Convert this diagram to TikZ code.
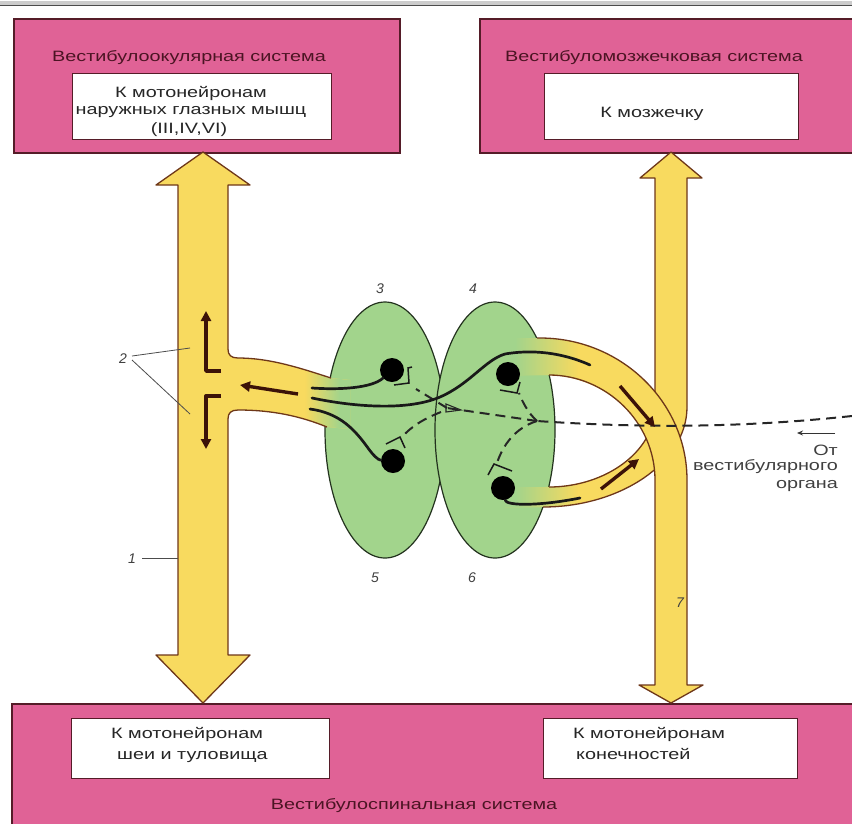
\documentclass[tikz,border=0pt]{standalone}
\usepackage{fontspec}
\setmainfont{Liberation Sans}
\newfontfamily\widesf[FakeStretch=1.32]{Liberation Sans}
\usetikzlibrary{fadings,arrows.meta}
\definecolor{pinkbg}{RGB}{224,98,150}
\definecolor{pinkedge}{RGB}{85,28,40}
\definecolor{titlecol}{RGB}{75,20,35}
\definecolor{bandyellow}{RGB}{248,218,95}
\definecolor{bandedge}{RGB}{110,55,25}
\definecolor{lobegreen}{RGB}{162,212,140}
\definecolor{lobeedge}{RGB}{35,50,30}
\definecolor{arrowbrown}{RGB}{60,18,8}
\tikzfading[name=fadeoutright, left color=transparent!0, right color=transparent!100]
\tikzfading[name=fadeoutleft, left color=transparent!100, right color=transparent!0]
\tikzset{
  pinkbox/.style={fill=pinkbg, draw=pinkedge, line width=1.6, anchor=north west, inner sep=0, rectangle},
  whitebox/.style={fill=white, draw=pinkedge, line width=1.3, anchor=north west, inner sep=0, rectangle},
  title/.style={font=\widesf\fontsize{15}{18}\selectfont, text=titlecol, anchor=base, inner sep=0},
  boxtxt/.style={font=\widesf\fontsize{15}{18}\selectfont, text=black!85, anchor=base, inner sep=0},
  numlbl/.style={font=\itshape\fontsize{14}{16}\selectfont, text=black!75, anchor=base, inner sep=0},
  lobe/.style={fill=lobegreen, draw=lobeedge, line width=1.2},
  bandfill/.style={fill=bandyellow},
  bandline/.style={draw=bandedge, line width=1.3, line join=round},
  axon/.style={line width=2.7, draw=black!90, line cap=round},
  neuron/.style={circle, fill=black, inner sep=0, minimum size=24},
  flow/.style={line width=3.4, draw=arrowbrown, line join=round, -{Triangle[length=10pt,width=10pt]}},
  dsh/.style={dash pattern=on 10pt off 6pt, line width=2, draw=black!85},
  syn/.style={line width=1.5, draw=black!90},
  leader/.style={line width=0.8, draw=black!70}
}
\begin{document}
\begin{tikzpicture}[x=1pt,y=-1pt]
\useasboundingbox (0,0) rectangle (852,823);
\fill[white] (0,0) rectangle (852,823);
% top rule
\fill[gray!40] (0,1) rectangle (852,6);
\draw[gray!60!black, line width=0.8] (0,5.5) -- (852,5.5);

% pink boxes
\node[pinkbox, minimum width=386, minimum height=134] (vo) at (13,18) {};
\node[pinkbox, minimum width=380, minimum height=134] (vm) at (479,18) {};
\node[pinkbox, minimum width=850, minimum height=130] (vs) at (11,703) {};
% white boxes
\node[whitebox, minimum width=259, minimum height=66] (wo) at (72,73) {};
\node[whitebox, minimum width=254, minimum height=66] (wm) at (544,73) {};
\node[whitebox, minimum width=258, minimum height=60] (wn) at (71,718) {};
\node[whitebox, minimum width=254, minimum height=60] (wl) at (543,718) {};

% titles
\node[title] (t1) at (189,61) {Вестибулоокулярная система};
\node[title] (t2) at (654,61) {Вестибуломозжечковая система};
\node[title] (t3) at (414,809) {Вестибулоспинальная система};
% white box texts
\node[boxtxt] (o1) at (191,97) {К мотонейронам};
\node[boxtxt] (o2) at (191,114) {наружных глазных мышц};
\node[boxtxt] (o3) at (189,133) {(III,IV,VI)};
\node[boxtxt] (m1) at (652,117) {К мозжечку};
\node[boxtxt, anchor=base west] (n1) at (111,738) {К мотонейронам};
\node[boxtxt, anchor=base west] (n2) at (117,759) {шеи и туловища};
\node[boxtxt, anchor=base west] (l1) at (573,738) {К мотонейронам};
\node[boxtxt, anchor=base west] (l2) at (576,759) {конечностей};

% lobes
\draw[lobe] (385,430) ellipse [x radius=60, y radius=128];
\draw[lobe] (495,430) ellipse [x radius=60, y radius=128];

% left shaft with branch
\fill[bandfill] (350,380) -- (330,378) .. controls (300,368) and (270,358) .. (238,358)
  .. controls (231,358) and (228,355) .. (228,349) -- (228,185) -- (250,185) -- (203,152)
  -- (156,185) -- (178,185) -- (178,655) -- (156,655) -- (203,703) -- (250,655) -- (228,655)
  -- (228,419) .. controls (228,413) and (231,410) .. (238,410)
  .. controls (272,410) and (300,416) .. (327,427) -- (350,429) -- cycle;
\begin{scope}
\clip (350,380) -- (330,378) .. controls (300,368) and (270,358) .. (238,358) -- (238,410)
  .. controls (272,410) and (300,416) .. (327,427) -- (350,429) -- cycle;
\fill[lobegreen, path fading=fadeoutleft] (305,350) rectangle (340,440);
\fill[lobegreen] (339.5,350) rectangle (352,440);
\end{scope}
\draw[bandline] (331,378) .. controls (300,368) and (270,358) .. (238,358)
  .. controls (231,358) and (228,355) .. (228,349) -- (228,185) -- (250,185) -- (203,152)
  -- (156,185) -- (178,185) -- (178,655) -- (156,655) -- (203,703) -- (250,655) -- (228,655)
  -- (228,419) .. controls (228,413) and (231,410) .. (238,410)
  .. controls (272,410) and (300,416) .. (327,427);

% band B (lower loop, goes up)
\fill[bandfill] (505,487) -- (545,487) .. controls (606,487) and (655,451) .. (655,407)
  -- (655,178) -- (640,178) -- (671,152) -- (702,178) -- (687,178) -- (687,407)
  .. controls (687,462) and (621,507) .. (540,507) -- (505,507) -- cycle;
\begin{scope}
\clip (505,487) -- (545,487) .. controls (606,487) and (655,451) .. (655,407)
  -- (687,407) .. controls (687,462) and (621,507) .. (540,507) -- (505,507) -- cycle;
\fill[lobegreen] (495,480) rectangle (515.5,515);
\fill[lobegreen, path fading=fadeoutright] (515,480) rectangle (578,515);
\end{scope}
\draw[bandline] (549,487) .. controls (606,487) and (655,451) .. (655,407)
  -- (655,178) -- (640,178) -- (671,152) -- (702,178) -- (687,178) -- (687,407)
  .. controls (687,462) and (621,507) .. (543,507);

% band A (upper loop, goes down)
\fill[bandfill] (505,338) -- (540,338) .. controls (621,338) and (687,402) .. (687,480)
  -- (687,685) -- (703,685) -- (671,703) -- (639,685) -- (655,685) -- (655,480)
  .. controls (655,422) and (606,375) .. (545,375) -- (505,375) -- cycle;
\begin{scope}
\clip (505,338) -- (540,338) .. controls (621,338) and (687,402) .. (687,480)
  -- (655,480) .. controls (655,422) and (606,375) .. (545,375) -- (505,375) -- cycle;
\fill[lobegreen] (495,330) rectangle (515.5,385);
\fill[lobegreen, path fading=fadeoutright] (515,330) rectangle (578,385);
\end{scope}
\draw[bandline] (537,338) -- (540,338) .. controls (621,338) and (687,402) .. (687,480)
  -- (687,685) -- (703,685) -- (671,703) -- (639,685) -- (655,685) -- (655,480)
  .. controls (655,422) and (606,375) .. (549,375);

% dashed afferent lines
\coordinate (vest) at (852,416);
\coordinate (fork) at (537,421);
\coordinate (tri) at (447,408);
\draw[dsh] (vest) .. controls (740,428) and (640,428) .. (fork);
\draw[dsh] (fork) -- (tri);
\draw[dsh] (tri) -- (416,389);
\draw[dsh] (fork) .. controls (528,413) and (522,401) .. (519,393);
\draw[dsh] (fork) .. controls (515,428) and (503,445) .. (497,463);
\draw[dsh] (441,412) .. controls (423,419) and (411,427) .. (403,436);
\draw[line width=1.1, draw=black!85] (446,404) -- (461,410) -- (446,412) -- cycle;

% synapse marks
\draw[syn] (412,367) -- (408,368) -- (409,383) -- (394,385);
\draw[syn] (500,390) -- (517,393) -- (520,382);
\draw[syn] (488,475) -- (494,464) -- (512,471);
\draw[syn] (386,444) -- (400,437) -- (405,448);

% neurons
\node[neuron] (n3) at (392,370) {};
\node[neuron] (n5) at (393,461) {};
\node[neuron] (n4) at (508,374) {};
\node[neuron] (n6) at (503,488) {};

% axons
\draw[axon] (n3) .. controls (372,388) and (340,390) .. (312,388);
\draw[axon] (312,398) .. controls (360,408) and (410,410) .. (440,397)
  .. controls (470,384) and (485,360) .. (505,354) .. controls (540,348) and (570,356) .. (590,365);
\draw[axon] (310,409) .. controls (340,413) and (355,430) .. (368,448) .. controls (373,455) and (378,460) .. (n5);
\draw[axon] (n6) .. controls (506,506) and (540,506) .. (580,498);

% flow arrows
\draw[flow] (298,394) -- (240,385);
\draw[flow] (221,371) -- (206,371) -- (206,311);
\draw[flow] (221,396) -- (206,396) -- (206,449);
\draw[flow] (620,386) -- (655,427);
\draw[flow] (601,489) -- (639,459);

% from vestibular organ
\coordinate (va) at (835,433);
\coordinate (vb) at (797,433);
\draw[line width=1, draw=black!80, -{Stealth[length=6pt,width=5pt]}] (va) -- (vb);
\node[boxtxt, anchor=base east, text=black!75] (ot1) at (838,455) {От};
\node[boxtxt, anchor=base east, text=black!75] (ot2) at (838,470) {вестибулярного};
\node[boxtxt, anchor=base east, text=black!75] (ot3) at (838,488) {органа};

% number labels
\node[numlbl] (L1) at (132,563) {1};
\node[numlbl] (L2) at (123,363) {2};
\node[numlbl] (L3) at (380,293) {3};
\node[numlbl] (L4) at (473,293) {4};
\node[numlbl] (L5) at (375,582) {5};
\node[numlbl] (L6) at (472,582) {6};
\node[numlbl] (L7) at (680,607) {7};
\draw[leader] (142,558) -- (178,558);
\draw[leader] (132,356) -- (190,348);
\draw[leader] (132,360) -- (190,414);
\end{tikzpicture}
\end{document}
